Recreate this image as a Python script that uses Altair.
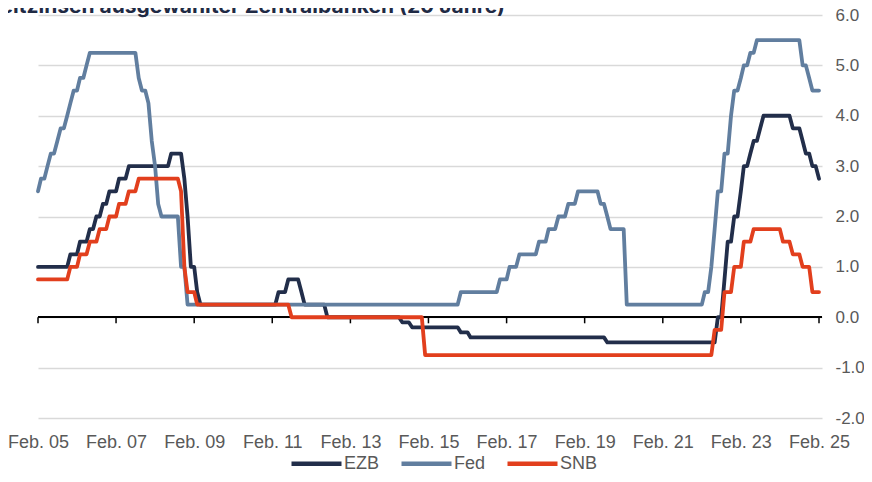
import altair as alt
import pandas as pd

TITLE = "Leitzinsen ausgewählter Zentralbanken (20 Jahre)"
SERIES = ["EZB", "Fed", "SNB"]
COLORS = ["#222e4a", "#617e9f", "#e23f1d"]
TICK_YEARS = [2005, 2007, 2009, 2011, 2013, 2015, 2017, 2019, 2021, 2023, 2025]
Y_TICKS = [-2, -1, 0, 1, 2, 3, 4, 5, 6]

# monthly values, Feb 2005 ... Feb 2025
EZB = [
    1.0, 1.0, 1.0, 1.0, 1.0, 1.0, 1.0, 1.0, 1.0, 1.0, 1.25,            # 2005 Feb-Dec
    1.25, 1.25, 1.5, 1.5, 1.5, 1.75, 1.75, 2.0, 2.0, 2.25, 2.25, 2.5,  # 2006
    2.5, 2.5, 2.75, 2.75, 2.75, 3.0, 3.0, 3.0, 3.0, 3.0, 3.0, 3.0,     # 2007
    3.0, 3.0, 3.0, 3.0, 3.0, 3.0, 3.25, 3.25, 3.25, 3.25, 2.75, 2.0,   # 2008
    1.0, 1.0, 0.5, 0.25, 0.25, 0.25, 0.25, 0.25, 0.25, 0.25, 0.25, 0.25,  # 2009
    0.25, 0.25, 0.25, 0.25, 0.25, 0.25, 0.25, 0.25, 0.25, 0.25, 0.25, 0.25,  # 2010
    0.25, 0.25, 0.25, 0.5, 0.5, 0.5, 0.75, 0.75, 0.75, 0.75, 0.5, 0.25,  # 2011
    0.25, 0.25, 0.25, 0.25, 0.25, 0.25, 0.0, 0.0, 0.0, 0.0, 0.0, 0.0,  # 2012
    0.0, 0.0, 0.0, 0.0, 0.0, 0.0, 0.0, 0.0, 0.0, 0.0, 0.0, 0.0,        # 2013
    0.0, 0.0, 0.0, 0.0, 0.0, -0.1, -0.1, -0.1, -0.2, -0.2, -0.2, -0.2,  # 2014
    -0.2, -0.2, -0.2, -0.2, -0.2, -0.2, -0.2, -0.2, -0.2, -0.2, -0.2, -0.3,  # 2015
    -0.3, -0.3, -0.4, -0.4, -0.4, -0.4, -0.4, -0.4, -0.4, -0.4, -0.4, -0.4,  # 2016
    -0.4, -0.4, -0.4, -0.4, -0.4, -0.4, -0.4, -0.4, -0.4, -0.4, -0.4, -0.4,  # 2017
    -0.4, -0.4, -0.4, -0.4, -0.4, -0.4, -0.4, -0.4, -0.4, -0.4, -0.4, -0.4,  # 2018
    -0.4, -0.4, -0.4, -0.4, -0.4, -0.4, -0.4, -0.4, -0.5, -0.5, -0.5, -0.5,  # 2019
    -0.5, -0.5, -0.5, -0.5, -0.5, -0.5, -0.5, -0.5, -0.5, -0.5, -0.5, -0.5,  # 2020
    -0.5, -0.5, -0.5, -0.5, -0.5, -0.5, -0.5, -0.5, -0.5, -0.5, -0.5, -0.5,  # 2021
    -0.5, -0.5, -0.5, -0.5, -0.5, -0.5, 0.0, 0.0, 0.75, 1.5, 1.5, 2.0,  # 2022
    2.0, 2.5, 3.0, 3.0, 3.25, 3.5, 3.5, 3.75, 4.0, 4.0, 4.0, 4.0,      # 2023
    4.0, 4.0, 4.0, 4.0, 4.0, 3.75, 3.75, 3.75, 3.5, 3.25, 3.25, 3.0,   # 2024
    3.0, 2.75,                                                          # 2025 Jan-Feb
]

FED = [
    2.5, 2.75, 2.75, 3.0, 3.25, 3.25, 3.5, 3.75, 3.75, 4.0, 4.25,       # 2005 Feb-Dec
    4.5, 4.5, 4.75, 4.75, 5.0, 5.25, 5.25, 5.25, 5.25, 5.25, 5.25, 5.25,  # 2006
    5.25, 5.25, 5.25, 5.25, 5.25, 5.25, 5.25, 5.25, 4.75, 4.5, 4.5, 4.25,  # 2007
    3.5, 3.0, 2.25, 2.0, 2.0, 2.0, 2.0, 2.0, 2.0, 1.0, 1.0, 0.25,      # 2008
    0.25, 0.25, 0.25, 0.25, 0.25, 0.25, 0.25, 0.25, 0.25, 0.25, 0.25, 0.25,  # 2009
    0.25, 0.25, 0.25, 0.25, 0.25, 0.25, 0.25, 0.25, 0.25, 0.25, 0.25, 0.25,  # 2010
    0.25, 0.25, 0.25, 0.25, 0.25, 0.25, 0.25, 0.25, 0.25, 0.25, 0.25, 0.25,  # 2011
    0.25, 0.25, 0.25, 0.25, 0.25, 0.25, 0.25, 0.25, 0.25, 0.25, 0.25, 0.25,  # 2012
    0.25, 0.25, 0.25, 0.25, 0.25, 0.25, 0.25, 0.25, 0.25, 0.25, 0.25, 0.25,  # 2013
    0.25, 0.25, 0.25, 0.25, 0.25, 0.25, 0.25, 0.25, 0.25, 0.25, 0.25, 0.25,  # 2014
    0.25, 0.25, 0.25, 0.25, 0.25, 0.25, 0.25, 0.25, 0.25, 0.25, 0.25, 0.5,  # 2015
    0.5, 0.5, 0.5, 0.5, 0.5, 0.5, 0.5, 0.5, 0.5, 0.5, 0.5, 0.75,       # 2016
    0.75, 0.75, 1.0, 1.0, 1.0, 1.25, 1.25, 1.25, 1.25, 1.25, 1.25, 1.5,  # 2017
    1.5, 1.5, 1.75, 1.75, 1.75, 2.0, 2.0, 2.0, 2.25, 2.25, 2.25, 2.5,  # 2018
    2.5, 2.5, 2.5, 2.5, 2.5, 2.5, 2.25, 2.25, 2.0, 1.75, 1.75, 1.75,   # 2019
    1.75, 1.75, 0.25, 0.25, 0.25, 0.25, 0.25, 0.25, 0.25, 0.25, 0.25, 0.25,  # 2020
    0.25, 0.25, 0.25, 0.25, 0.25, 0.25, 0.25, 0.25, 0.25, 0.25, 0.25, 0.25,  # 2021
    0.25, 0.25, 0.5, 0.5, 1.0, 1.75, 2.5, 2.5, 3.25, 3.25, 4.0, 4.5,   # 2022
    4.5, 4.75, 5.0, 5.0, 5.25, 5.25, 5.5, 5.5, 5.5, 5.5, 5.5, 5.5,     # 2023
    5.5, 5.5, 5.5, 5.5, 5.5, 5.5, 5.5, 5.5, 5.0, 5.0, 4.75, 4.5,       # 2024
    4.5, 4.5,                                                           # 2025 Jan-Feb
]

SNB = [
    0.75, 0.75, 0.75, 0.75, 0.75, 0.75, 0.75, 0.75, 0.75, 0.75, 1.0,    # 2005 Feb-Dec
    1.0, 1.0, 1.25, 1.25, 1.25, 1.5, 1.5, 1.5, 1.75, 1.75, 1.75, 2.0,  # 2006
    2.0, 2.0, 2.25, 2.25, 2.25, 2.5, 2.5, 2.5, 2.75, 2.75, 2.75, 2.75,  # 2007
    2.75, 2.75, 2.75, 2.75, 2.75, 2.75, 2.75, 2.75, 2.75, 2.5, 1.0, 0.5,  # 2008
    0.5, 0.5, 0.25, 0.25, 0.25, 0.25, 0.25, 0.25, 0.25, 0.25, 0.25, 0.25,  # 2009
    0.25, 0.25, 0.25, 0.25, 0.25, 0.25, 0.25, 0.25, 0.25, 0.25, 0.25, 0.25,  # 2010
    0.25, 0.25, 0.25, 0.25, 0.25, 0.25, 0.25, 0.0, 0.0, 0.0, 0.0, 0.0,  # 2011
    0.0, 0.0, 0.0, 0.0, 0.0, 0.0, 0.0, 0.0, 0.0, 0.0, 0.0, 0.0,        # 2012
    0.0, 0.0, 0.0, 0.0, 0.0, 0.0, 0.0, 0.0, 0.0, 0.0, 0.0, 0.0,        # 2013
    0.0, 0.0, 0.0, 0.0, 0.0, 0.0, 0.0, 0.0, 0.0, 0.0, 0.0, 0.0,        # 2014
    -0.75, -0.75, -0.75, -0.75, -0.75, -0.75, -0.75, -0.75, -0.75, -0.75, -0.75, -0.75,  # 2015
    -0.75, -0.75, -0.75, -0.75, -0.75, -0.75, -0.75, -0.75, -0.75, -0.75, -0.75, -0.75,  # 2016
    -0.75, -0.75, -0.75, -0.75, -0.75, -0.75, -0.75, -0.75, -0.75, -0.75, -0.75, -0.75,  # 2017
    -0.75, -0.75, -0.75, -0.75, -0.75, -0.75, -0.75, -0.75, -0.75, -0.75, -0.75, -0.75,  # 2018
    -0.75, -0.75, -0.75, -0.75, -0.75, -0.75, -0.75, -0.75, -0.75, -0.75, -0.75, -0.75,  # 2019
    -0.75, -0.75, -0.75, -0.75, -0.75, -0.75, -0.75, -0.75, -0.75, -0.75, -0.75, -0.75,  # 2020
    -0.75, -0.75, -0.75, -0.75, -0.75, -0.75, -0.75, -0.75, -0.75, -0.75, -0.75, -0.75,  # 2021
    -0.75, -0.75, -0.75, -0.75, -0.75, -0.25, -0.25, -0.25, 0.5, 0.5, 0.5, 1.0,  # 2022
    1.0, 1.0, 1.5, 1.5, 1.5, 1.75, 1.75, 1.75, 1.75, 1.75, 1.75, 1.75,  # 2023
    1.75, 1.75, 1.5, 1.5, 1.5, 1.25, 1.25, 1.25, 1.0, 1.0, 1.0, 0.5,   # 2024
    0.5, 0.5,                                                           # 2025 Jan-Feb
]

assert len(EZB) == len(FED) == len(SNB) == 241, (len(EZB), len(FED), len(SNB))

months = pd.date_range("2005-02-01", periods=len(EZB), freq="MS")
rows = []
for name, vals in zip(SERIES, [EZB, FED, SNB]):
    for d, v in zip(months, vals):
        rows.append({"date": d.strftime("%Y-%m-%d"), "series": name, "value": v})
df = pd.DataFrame(rows)

ticks_df = pd.DataFrame({"date": [f"{y}-02-01" for y in TICK_YEARS]})
title_df = pd.DataFrame({"t": [TITLE]})

FONT = "Liberation Sans"
TXT = "#595959"

x_scale = alt.Scale(
    type="utc",
    domain=[alt.DateTime(year=2005, month=2, date=1, utc=True),
            alt.DateTime(year=2025, month=3, date=1, utc=True)],
)
y_scale = alt.Scale(domain=[-2, 6], nice=False, zero=False)

x_axis = alt.Axis(
    values=[alt.DateTime(year=y, month=2, date=1, utc=True) for y in TICK_YEARS],
    labelExpr="'Feb. ' + utcFormat(datum.value, '%y')",
    domain=False, ticks=False, grid=False,
    labelFont=FONT, labelFontSize=18, labelColor=TXT,
    labelPadding=15, labelFlush=False, labelOverlap=False,
)
y_axis = alt.Axis(
    orient="right", values=Y_TICKS,
    labelExpr="(datum.value < 0 ? '-' : '') + format(abs(datum.value), '.1f')",
    domain=False, ticks=False, grid=True,
    gridColor="#d9d9d9", gridWidth=1.5,
    labelFont=FONT, labelFontSize=17, labelColor=TXT, labelPadding=13,
    labelFlush=False, labelOverlap=False,
)

X_ENC = alt.X("date:T", scale=x_scale, axis=x_axis, title=None)

zero_line = alt.Chart(ticks_df).mark_rule(color="#000000", strokeWidth=1.5).encode(
    y=alt.datum(0, scale=y_scale, axis=y_axis, title=None)
)

tick_marks = alt.Chart(ticks_df).mark_rule(color="#000000", strokeWidth=1.5).encode(
    x=X_ENC,
    y=alt.datum(0, scale=y_scale, axis=y_axis, title=None),
    y2=alt.datum(-0.12),
)

lines = alt.Chart(df).mark_line(strokeWidth=3.8, strokeCap="round", strokeJoin="round").encode(
    x=X_ENC,
    y=alt.Y("value:Q", scale=y_scale, axis=y_axis, title=None),
    color=alt.Color(
        "series:N",
        scale=alt.Scale(domain=SERIES, range=COLORS),
        legend=alt.Legend(
            title=None, orient="none", direction="horizontal",
            legendX=251, legendY=421, padding=0,
            symbolType="stroke", symbolSize=2500, symbolStrokeWidth=4.5,
            labelFont=FONT, labelFontSize=18, labelColor=TXT,
            labelOffset=0, columnPadding=12,
        ),
    ),
)

# chart heading, cut off at the top edge as in the reference
heading = alt.Chart(title_df).mark_text(
    font="Inter", fontSize=21, fontWeight="bold", color="#1f2a44",
    align="right", baseline="alphabetic",
).encode(text="t:N", x=alt.value(467), y=alt.value(-2))

chart = alt.layer(zero_line, tick_marks, lines, heading).properties(
    width=784,
    height=403,
    autosize=alt.AutoSizeParams(type="none"),
    padding={"left": 30, "top": 7, "right": 42, "bottom": 56},
).configure(background="white").configure_view(stroke=None)

chart.save("out.html", embed_options={"renderer": "svg", "actions": False})
